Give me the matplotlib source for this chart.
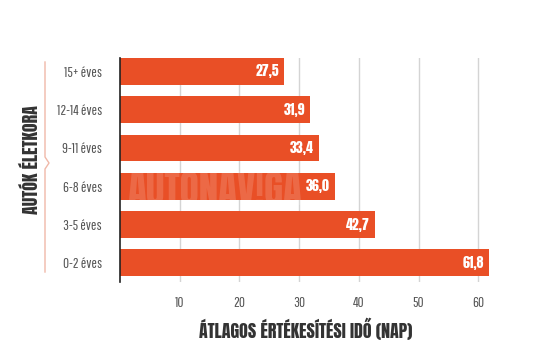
import matplotlib.pyplot as plt
from matplotlib import font_manager
from matplotlib.lines import Line2D

# Data
age_groups = ['0-2 éves', '3-5 éves', '6-8 éves', '9-11 éves', '12-14 éves', '15+ éves']
avg_days = [61.8, 42.7, 36.0, 33.4, 31.9, 27.5]
x_ticks = [10, 20, 30, 40, 50, 60]

BAR_COLOR = '#e94f26'
TEXT_GRAY = '#555555'
LABEL_DARK = '#333333'

available = {f.name for f in font_manager.fontManager.ttflist}


def pick(*names):
    for n in names:
        if n in available:
            return n
    return 'DejaVu Sans'


light_font = pick('Pathway Gothic One', 'Oswald', 'Barlow Condensed', 'Asap Condensed')
bold_font = pick('Anton', 'Bebas Neue', 'Oswald', 'Barlow Condensed', 'Asap Condensed')
plt.rcParams['font.family'] = [light_font, 'DejaVu Sans']

fig = plt.figure(figsize=(5.37, 3.53), dpi=100)
ax = fig.add_axes([120 / 537, 1 - 282 / 353, 400 / 537, (282 - 58) / 353])

ypos = range(len(age_groups))
ax.barh(ypos, avg_days, height=0.7, color=BAR_COLOR, zorder=2)

for y, v in zip(ypos, avg_days):
    ax.text(v - 0.9, y, f'{v:.1f}'.replace('.', ','), color='white', fontsize=10,
            family=[bold_font, 'DejaVu Sans'], ha='right', va='center', zorder=4)

# faint watermark over the 6-8 row (only the part on the bar shows)
fig.text(302 / 537, 1 - 188 / 353, 'AUTÓNAV!GA', ha='right', va='center', fontsize=28,
         family=[bold_font, 'DejaVu Sans'], color='white', alpha=0.15, zorder=5)

ax.set_xlim(0, 67)
ax.set_ylim(-0.5, 5.35)
ax.set_xticks(x_ticks)
ax.set_xticklabels([str(t) for t in x_ticks], color=TEXT_GRAY, fontsize=10.5)
ax.set_yticks(list(ypos))
ax.set_yticklabels(age_groups, color=TEXT_GRAY, fontsize=10.5)
ax.tick_params(axis='both', length=0)
ax.tick_params(axis='x', pad=10)
ax.tick_params(axis='y', pad=13)

ax.grid(axis='x', color='#d4d4d4', linewidth=1, zorder=0)
for s in ['top', 'right', 'bottom']:
    ax.spines[s].set_visible(False)
ax.spines['left'].set_color('#222222')
ax.spines['left'].set_linewidth(1.2)

ax.set_xlabel('ÁTLAGOS ÉRTÉKESÍTÉSI IDŐ (NAP)', color=LABEL_DARK, fontsize=13,
              family=[bold_font, 'DejaVu Sans'])
ax.xaxis.set_label_coords(0.465, -0.16)

fig.text(30 / 537, 1 - 160 / 353, 'AUTÓK ÉLETKORA', rotation=90, ha='center', va='center',
         color=LABEL_DARK, fontsize=13, family=[bold_font, 'DejaVu Sans'])

# bracket next to the axis title
bx = 45 / 537
fig.add_artist(Line2D([bx, bx, bx + 4 / 537, bx, bx],
                      [1 - 62 / 353, 1 - 157 / 353, 1 - 163 / 353, 1 - 169 / 353, 1 - 272 / 353],
                      transform=fig.transFigure, color='#f0b8a8', linewidth=1))

fig.savefig('out.png', dpi=100, facecolor='white')
